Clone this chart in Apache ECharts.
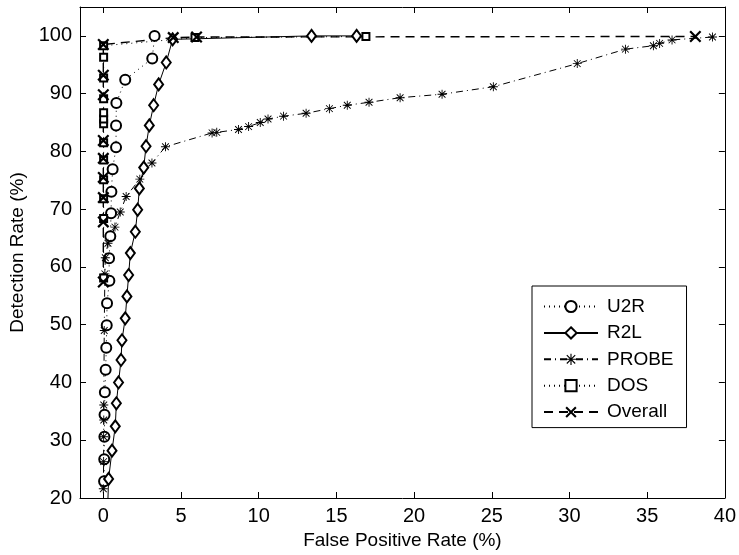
<html>
    <head>
        <meta charset="utf-8">
        <script src='https://cdn.jsdelivr.net/npm/echarts@6/dist/echarts.min.js'></script>
    </head>
    <body>
        <style>
            html, body, #main {
                width: 100%;
                height: 100%;
                margin: 0;
                background: #fff;
            }
        </style>
        <div id='main'></div>
        <script>
            // values (false positive %, detection %)
            var u2rX = [0.05, 0.06, 0.07, 0.08, 0.1, 0.15, 0.19, 0.22, 0.24, 0.39, 0.37, 0.45, 0.5, 0.52, 0.6, 0.82, 0.82, 0.84, 1.41, 3.15, 3.3];
            var u2rY = [22.9, 26.7, 30.6, 34.4, 38.3, 42.2, 46.0, 49.9, 53.7, 57.6, 61.5, 65.3, 69.3, 73.0, 76.9, 80.7, 84.5, 88.4, 92.4, 96.1, 100];

            var r2lX = [0.3, 0.34, 0.56, 0.77, 0.84, 0.98, 1.14, 1.2, 1.41, 1.52, 1.63, 1.74, 2.06, 2.21, 2.32, 2.6, 2.75, 2.96, 3.24, 3.56, 4.05, 4.46, 13.4, 16.3];
            var r2lY = [20, 23.3, 28.2, 32.4, 36.4, 40.0, 43.9, 47.3, 51.1, 54.9, 58.6, 62.4, 66.1, 69.9, 73.6, 77.2, 80.9, 84.5, 88.0, 91.6, 95.4, 99.4, 100, 100];

            var probeX = [0.0, 0.02, 0.02, 0.03, 0.03, 0.06, 0.1, 0.13, 0.3, 0.75, 1.09, 1.47, 2.35, 3.13, 4.0, 7.0, 7.3, 8.7, 9.35, 10.1, 10.6, 11.6, 13.05, 14.55, 15.7, 17.1, 19.1, 21.8, 25.1, 30.5, 33.6, 35.4, 35.8, 36.6, 39.2];
            var probeY = [21.6, 26.3, 30.6, 33.5, 36.1, 49.0, 58.8, 61.6, 64.1, 66.9, 69.5, 72.2, 75.2, 78.0, 80.8, 83.2, 83.3, 83.8, 84.3, 85.0, 85.6, 86.1, 86.6, 87.4, 88.0, 88.5, 89.3, 89.9, 91.2, 95.2, 97.7, 98.3, 98.7, 99.3, 99.8];

            var dosX = [0.02, 0.02, 0.02, 0.02, 0.02, 0.02, 0.02, 0.02, 0.02, 0.02, 0.02, 0.02, 0.02, 5.9, 16.9];
            var dosY = [58.1, 68.4, 71.8, 75.1, 78.5, 81.5, 84.8, 85.6, 86.7, 89.1, 92.7, 96.3, 98.3, 99.7, 99.9];

            var allX = [0.0, 0.0, 0.0, 0.0, 0.0, 0.0, 0.0, 0.0, 0.0, 4.5, 6.0, 38.1];
            var allY = [57.4, 67.8, 72.0, 75.5, 78.8, 81.9, 89.8, 93.2, 98.5, 99.7, 99.8, 99.9];

            var xTicks = [0, 5, 10, 15, 20, 25, 30, 35, 40];
            var yTicks = [20, 30, 40, 50, 60, 70, 80, 90, 100];

            // points sitting on the bottom border carry the line only, no marker
            function pairs(xs, ys) {
                return xs.map(function (x, i) {
                    if (ys[i] <= 20) return { value: [x, ys[i]], symbol: 'none' };
                    return [x, ys[i]];
                });
            }

            var starPath = 'path://M4.5,0H5.5V10H4.5Z M0,4.5H10V5.5H0Z M0.9,1.6L1.6,0.9L9.1,8.4L8.4,9.1Z M8.4,0.9L9.1,1.6L1.6,9.1L0.9,8.4Z';
            var crossPath = 'path://M0,1.3L1.3,0L10,8.7L8.7,10Z M8.7,0L10,1.3L1.3,10L0,8.7Z';

            var font = 'Liberation Sans, Arial, sans-serif';
            var chart = echarts.init(document.getElementById('main'));

            var option = {
                animation: false,
                backgroundColor: '#fff',
                grid: { left: 80, right: 14, top: 7, bottom: 57 },
                legend: {
                    orient: 'vertical',
                    left: 532,
                    top: 286,
                    itemWidth: 54,
                    itemHeight: 14,
                    itemGap: 7.4,
                    padding: [11, 13, 6, 11],
                    backgroundColor: '#fff',
                    borderColor: '#000',
                    borderWidth: 1,
                    borderRadius: 0,
                    textStyle: { fontFamily: font, fontSize: 19, color: '#000', padding: [0, 0, 0, 4] },
                    data: ['U2R', 'R2L', 'PROBE', 'DOS', 'Overall']
                },
                xAxis: [{
                    type: 'value', min: -1.5, max: 40, position: 'bottom',
                    name: 'False Positive Rate (%)', nameLocation: 'middle', nameGap: 30,
                    nameTextStyle: { fontFamily: font, fontSize: 19, color: '#000' },
                    splitLine: { show: false },
                    axisLine: { onZero: false, lineStyle: { color: '#000', width: 1 } },
                    axisTick: { inside: true, length: 6, customValues: xTicks, lineStyle: { color: '#000' } },
                    axisLabel: { customValues: xTicks, margin: 8, fontFamily: font, fontSize: 20, color: '#000' }
                }, {
                    type: 'value', min: -1.5, max: 40, position: 'top',
                    splitLine: { show: false },
                    axisLine: { onZero: false, lineStyle: { color: '#000', width: 1 } },
                    axisTick: { inside: true, length: 6, customValues: xTicks, lineStyle: { color: '#000' } },
                    axisLabel: { show: false }
                }],
                yAxis: [{
                    type: 'value', min: 20, max: 105, position: 'left',
                    name: 'Detection Rate (%)', nameLocation: 'middle', nameGap: 52,
                    nameTextStyle: { fontFamily: font, fontSize: 19, color: '#000' },
                    splitLine: { show: false },
                    axisLine: { onZero: false, lineStyle: { color: '#000', width: 1 } },
                    axisTick: { inside: true, length: 6, customValues: yTicks, lineStyle: { color: '#000' } },
                    axisLabel: { customValues: yTicks, margin: 8, fontFamily: font, fontSize: 20, color: '#000' }
                }, {
                    type: 'value', min: 20, max: 105, position: 'right',
                    splitLine: { show: false },
                    axisLine: { onZero: false, lineStyle: { color: '#000', width: 1 } },
                    axisTick: { inside: true, length: 6, customValues: yTicks, lineStyle: { color: '#000' } },
                    axisLabel: { show: false }
                }],
                series: [{
                    name: 'U2R', type: 'line', data: pairs(u2rX, u2rY),
                    symbol: 'emptyCircle', symbolSize: 10,
                    itemStyle: { color: '#000', borderWidth: 0.9 },
                    lineStyle: { color: '#000', width: 1, type: [1, 4] }
                }, {
                    name: 'R2L', type: 'line', data: pairs(r2lX, r2lY),
                    symbol: 'emptyDiamond', symbolSize: [9, 12],
                    itemStyle: { color: '#000', borderWidth: 0.9 },
                    lineStyle: { color: '#000', width: 1, type: 'solid' }
                }, {
                    name: 'PROBE', type: 'line', data: pairs(probeX, probeY),
                    symbol: starPath, symbolSize: 9,
                    itemStyle: { color: '#000' },
                    lineStyle: { color: '#000', width: 1, type: [7, 4, 1, 4] }
                }, {
                    name: 'DOS', type: 'line', data: pairs(dosX, dosY),
                    symbol: 'emptyRect', symbolSize: 7,
                    itemStyle: { color: '#000', borderWidth: 1.6 },
                    lineStyle: { color: '#000', width: 1, type: [1, 4] }
                }, {
                    name: 'Overall', type: 'line', data: pairs(allX, allY),
                    symbol: crossPath, symbolSize: 12,
                    itemStyle: { color: '#000' },
                    lineStyle: { color: '#000', width: 1.4, type: [9, 6] }
                }]
            };
            chart.setOption(option);
            window.onresize = chart.resize;
        </script>
    </body>
</html>
